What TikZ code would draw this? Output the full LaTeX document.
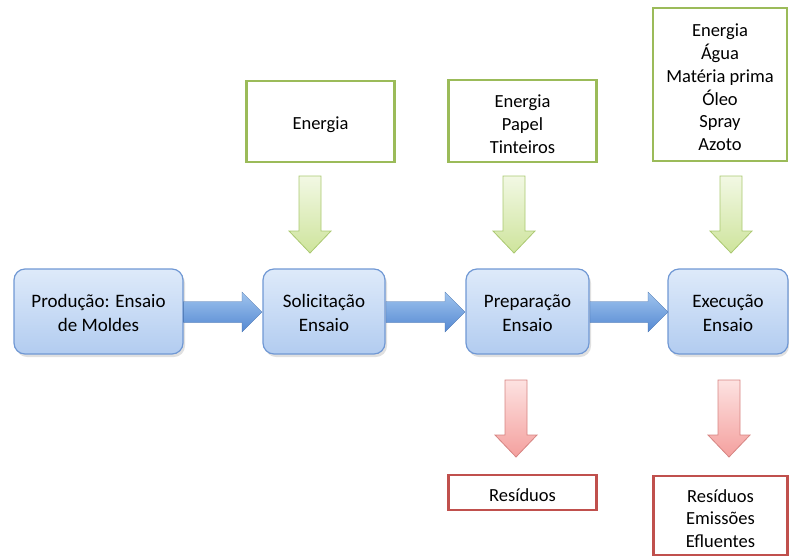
\documentclass[tikz,border=0pt]{standalone}
\usepackage{fontspec}
\setmainfont{Carlito}
\usetikzlibrary{calc}

\definecolor{procTop}{RGB}{222,234,250}
\definecolor{procBot}{RGB}{178,204,240}
\definecolor{procLine}{RGB}{112,152,212}
\definecolor{inLine}{RGB}{155,187,89}
\definecolor{outLine}{RGB}{192,80,77}
\definecolor{blueTop}{RGB}{160,196,238}
\definecolor{blueBot}{RGB}{84,136,210}
\definecolor{greenTop}{RGB}{242,248,228}
\definecolor{greenBot}{RGB}{206,228,156}
\definecolor{greenLine}{RGB}{170,200,112}
\definecolor{redTop}{RGB}{253,226,225}
\definecolor{redBot}{RGB}{244,160,158}
\definecolor{redLine}{RGB}{214,132,130}

\tikzset{
  txt/.style={font=\fontsize{18.5}{22.8}\selectfont, align=center, text=black},
  ptxt/.style={font=\fontsize{19}{24}\selectfont, align=center, text=black},
  % box text, set a little below the geometric centre
  boxtext/.style={label={[txt, yshift=-3pt]center:#1}},
  proctext/.style={label={[ptxt, yshift=-1.5pt]center:#1}},
  process/.style={rounded corners=11pt, draw=procLine, line width=1.2pt,
    top color=procTop, bottom color=procBot, inner sep=0pt},
  inbox/.style={draw=inLine, line width=2.6pt, fill=white, inner sep=0pt},
  outbox/.style={draw=outLine, line width=2.6pt, fill=white, inner sep=0pt},
  shade/.style={fill=black, opacity=0.12},
  bluearrow/.style={top color=blueTop, bottom color=blueBot, draw=blueBot!80!black, line width=0.3pt},
  greenarrow/.style={top color=greenTop, bottom color=greenBot, draw=greenLine, line width=0.8pt},
  redarrow/.style={top color=redTop, bottom color=redBot, draw=redLine, line width=0.8pt},
}

% horizontal block arrow from #1 to #2 (same height)
\newcommand{\blockright}[3]{%
  \path[#3] let \p1=(#1), \p2=(#2) in
    (\x1,\y1+10.5) -- (\x2-20,\y1+10.5) -- (\x2-20,\y1+20) -- (\x2,\y1)
    -- (\x2-20,\y1-20) -- (\x2-20,\y1-10.5) -- (\x1,\y1-10.5) -- cycle;}
% vertical block arrow from #1 down to #2
\newcommand{\blockdown}[3]{%
  \path[#3] let \p1=(#1), \p2=(#2) in
    (\x1-11,\y1) -- (\x1+11,\y1) -- (\x1+11,\y2+22) -- (\x1+21,\y2+22) -- (\x1,\y2)
    -- (\x1-21,\y2+22) -- (\x1-11,\y2+22) -- cycle;}

\begin{document}
\begin{tikzpicture}[x=1pt,y=1pt]
\useasboundingbox (0,0) rectangle (789,-557);

% process chain
\fill[shade, rounded corners=11pt] (16,-272) rectangle (185,-357);
\fill[shade, rounded corners=11pt] (265,-272) rectangle (387,-357);
\fill[shade, rounded corners=11pt] (468,-272) rectangle (591,-357);
\fill[shade, rounded corners=11pt] (670,-272) rectangle (789,-357);
\node[process, minimum width=169pt, minimum height=85pt, proctext={Produção: Ensaio\\de Moldes}] (p1) at (98.5,-311.5) {};
\node[process, minimum width=122pt, minimum height=85pt, proctext={Solicitação\\Ensaio}] (p2) at (324,-311.5) {};
\node[process, minimum width=123pt, minimum height=85pt, proctext={Preparação\\Ensaio}] (p3) at (527.5,-311.5) {};
\node[process, minimum width=120pt, minimum height=85pt, proctext={Execução\\Ensaio}] (p4) at (728,-311.5) {};

\coordinate (h1s) at (183.6,-312);
\coordinate (h1e) at (262,-312);
\coordinate (h2s) at (386,-312);
\coordinate (h2e) at (465,-312);
\coordinate (h3s) at (590,-312);
\coordinate (h3e) at (668,-312);
\blockright{h1s}{h1e}{bluearrow}
\blockright{h2s}{h2e}{bluearrow}
\blockright{h3s}{h3e}{bluearrow}

% inputs
\node[inbox, minimum width=148pt, minimum height=81pt, boxtext={Energia}] (g1) at (320.5,-121.5) {};
\node[inbox, minimum width=148pt, minimum height=82pt, boxtext={Energia\\Papel\\Tinteiros}] (g2) at (522.5,-121) {};
\node[inbox, minimum width=134pt, minimum height=153pt, boxtext={Energia\\Água\\Matéria prima\\Óleo\\Spray\\Azoto}] (g3) at (720,-84.5) {};

\coordinate (i1s) at (310,-176);
\coordinate (i1e) at (310,-253);
\coordinate (i2s) at (514,-176);
\coordinate (i2e) at (514,-253);
\coordinate (i3s) at (731,-176);
\coordinate (i3e) at (731,-253);
\blockdown{i1s}{i1e}{greenarrow}
\blockdown{i2s}{i2e}{greenarrow}
\blockdown{i3s}{i3e}{greenarrow}

% outputs
\coordinate (o1s) at (516,-380);
\coordinate (o1e) at (516,-457);
\coordinate (o2s) at (729,-380);
\coordinate (o2e) at (729,-457);
\blockdown{o1s}{o1e}{redarrow}
\blockdown{o2s}{o2e}{redarrow}

\node[outbox, minimum width=148pt, minimum height=35pt, boxtext={Resíduos}] (r1) at (522.5,-492.5) {};
\node[outbox, minimum width=134pt, minimum height=79pt, boxtext={Resíduos\\Emissões\\Efluentes}] (r2) at (720.5,-515.5) {};
\end{tikzpicture}
\end{document}
